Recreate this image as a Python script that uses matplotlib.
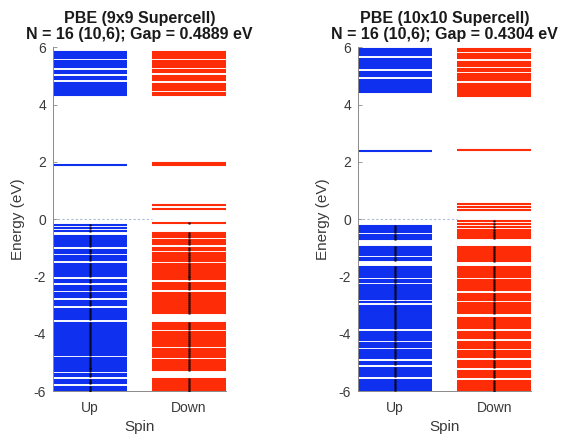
import matplotlib
matplotlib.use('Agg')
import matplotlib.pyplot as plt

plt.rcParams['font.family'] = ['Liberation Sans', 'DejaVu Sans']
plt.rcParams['axes.unicode_minus'] = False

# Eigenvalues (eV), 9x9 supercell
up_9x9 = [5.83, 5.77, 5.71, 5.64, 5.51, 5.44, 5.37, 5.31, 5.18, 5.11, 4.96, 4.89,
          4.75, 4.68, 4.61, 4.54, 4.47, 4.40, 4.34,
          1.88,
          -0.21, -0.30, -0.40, -0.60, -0.67, -0.74, -0.81, -0.88, -0.94, -1.06, -1.12, -1.18,
          -1.30, -1.37, -1.44, -1.58, -1.65, -1.72, -1.79, -1.86, -1.93, -1.99, -2.11, -2.18,
          -2.32, -2.39, -2.46, -2.58, -2.65, -2.72, -2.86, -2.93, -3.00, -3.12, -3.19, -3.26,
          -3.33, -3.40, -3.47, -3.62, -3.69, -3.76, -3.83, -3.90, -3.97, -4.04, -4.11, -4.18,
          -4.26, -4.33, -4.40, -4.47, -4.54, -4.61, -4.68, -4.75, -4.83, -4.90, -4.97, -5.04,
          -5.11, -5.18, -5.24, -5.30, -5.40, -5.47, -5.60, -5.67, -5.73, -5.85, -5.92, -5.98]
down_9x9 = [5.83, 5.77, 5.70, 5.64, 5.52, 5.45, 5.38, 5.30, 5.22, 5.15, 5.00, 4.93, 4.86,
            4.73, 4.66, 4.59, 4.52, 4.40, 4.34,
            1.90, 1.96, 0.50, 0.37,
            -0.14, -0.48, -0.55, -0.62, -0.74, -0.81, -0.88, -1.00, -1.07, -1.19, -1.26, -1.33,
            -1.40, -1.47, -1.55, -1.62, -1.69, -1.76, -1.83, -1.90, -1.97, -2.03, -2.10, -2.24,
            -2.31, -2.38, -2.45, -2.58, -2.65, -2.72, -2.79, -2.87, -2.94, -3.01, -3.08, -3.14,
            -3.21, -3.28, -3.64, -3.71, -3.78, -3.85, -3.93, -4.00, -4.07, -4.14, -4.20, -4.27,
            -4.34, -4.41, -4.53, -4.60, -4.67, -4.74, -4.81, -4.93, -5.00, -5.07, -5.14, -5.21,
            -5.27, -5.58, -5.65, -5.72, -5.79, -5.86, -5.93, -5.99]

# Eigenvalues (eV), 10x10 supercell
up_10x10 = [5.94, 5.87, 5.80, 5.73, 5.60, 5.53, 5.46, 5.39, 5.32, 5.26, 5.13, 5.06, 4.99,
            4.84, 4.77, 4.70, 4.63, 4.56, 4.49, 4.42,
            2.38,
            -0.25, -0.32, -0.39, -0.46, -0.56, -0.63, -0.70, -0.98, -1.05, -1.12, -1.19, -1.26,
            -1.36, -1.43, -1.68, -1.75, -1.82, -1.89, -1.96, -2.03, -2.14, -2.21, -2.28, -2.35,
            -2.42, -2.49, -2.56, -2.63, -2.70, -2.77, -2.90, -3.02, -3.09, -3.16, -3.23, -3.30,
            -3.37, -3.44, -3.51, -3.58, -3.65, -3.72, -3.79, -3.92, -3.99, -4.06, -4.13, -4.20,
            -4.32, -4.39, -4.46, -4.58, -4.65, -4.72, -4.79, -4.86, -5.00, -5.07, -5.19, -5.26,
            -5.33, -5.40, -5.47, -5.60, -5.67, -5.74, -5.81, -5.88, -5.95]
down_10x10 = [5.94, 5.88, 5.76, 5.69, 5.62, 5.50, 5.43, 5.36, 5.24, 5.17, 5.06, 4.99, 4.92,
              4.85, 4.73, 4.66, 4.59, 4.52, 4.45, 4.38, 4.30,
              2.43, 0.52, 0.42, 0.32,
              -0.06, -0.16, -0.26, -0.37, -0.44, -0.51, -0.58, -0.65, -0.98, -1.05, -1.12,
              -1.19, -1.26, -1.33, -1.40, -1.47, -1.66, -1.73, -1.80, -1.87, -1.94, -2.01, -2.13,
              -2.20, -2.27, -2.34, -2.41, -2.48, -2.60, -2.67, -2.74, -2.81, -2.93, -3.00, -3.07,
              -3.14, -3.21, -3.28, -3.45, -3.52, -3.59, -3.66, -3.73, -3.80, -3.93, -4.00, -4.07,
              -4.14, -4.27, -4.34, -4.41, -4.48, -4.61, -4.68, -4.75, -4.82, -4.95, -5.02, -5.09,
              -5.16, -5.29, -5.36, -5.43, -5.50, -5.63, -5.70, -5.77, -5.84, -5.91, -5.98]

titles = ['PBE (9x9 Supercell)\nN = 16 (10,6); Gap = 0.4889 eV',
          'PBE (10x10 Supercell)\nN = 16 (10,6); Gap = 0.4304 eV']
spin_labels = ['Up', 'Down']
yticks = [-6, -4, -2, 0, 2, 4, 6]

blue = '#1030f0'
red = '#ff2c08'
gray = '#8a8a8a'
txt = '#3a3a3a'

fig = plt.figure(figsize=(5.64, 4.37), dpi=100)
ax1 = fig.add_axes([0.094, 0.105, 0.307, 0.787])
ax2 = fig.add_axes([0.635, 0.105, 0.307, 0.787])

panels = [(ax1, up_9x9, down_9x9, titles[0]), (ax2, up_10x10, down_10x10, titles[1])]
hw = 0.375
for ax, up, down, title in panels:
    ax.hlines(up, 1 - hw, 1 + hw, colors=blue, linewidth=1.5, zorder=2)
    ax.hlines(down, 2 - hw, 2 + hw, colors=red, linewidth=1.5, zorder=2)
    # fermi level
    ax.plot([1 - hw, 2 - hw], [0, 0], linestyle=(0, (2, 2)), color='#a9bcd4', linewidth=0.8, zorder=1)
    # occupied states
    occ_up = [e for e in up if e < 0]
    occ_dn = [e for e in down if e < 0]
    ax.plot([1] * len(occ_up), occ_up, '.', color='black', markersize=2, alpha=0.6, zorder=3)
    ax.plot([2] * len(occ_dn), occ_dn, '.', color='black', markersize=2, alpha=0.6, zorder=3)

    ax.set_xlim(1 - hw, 2 + hw)
    ax.set_ylim(-6, 6)
    ax.set_xticks([1, 2])
    ax.set_xticklabels(spin_labels)
    ax.set_yticks(yticks)
    ax.spines['top'].set_visible(False)
    ax.spines['right'].set_visible(False)
    for s in ['left', 'bottom']:
        ax.spines[s].set_color(gray)
        ax.spines[s].set_linewidth(0.7)
    ax.tick_params(direction='in', length=3, width=0.6, color=gray, labelcolor=txt, labelsize=10)
    ax.tick_params(axis='x', pad=7)
    ax.tick_params(axis='y', pad=5)
    ax.set_xlabel('Spin', fontsize=11, color=txt, labelpad=4)
    ax.set_ylabel('Energy (eV)', fontsize=11, color=txt, labelpad=6)
    ax.set_title(title, fontsize=11.5, fontweight='bold', color='#1a1a1a', pad=6, linespacing=1.1)

fig.savefig('out.png', dpi=100)
